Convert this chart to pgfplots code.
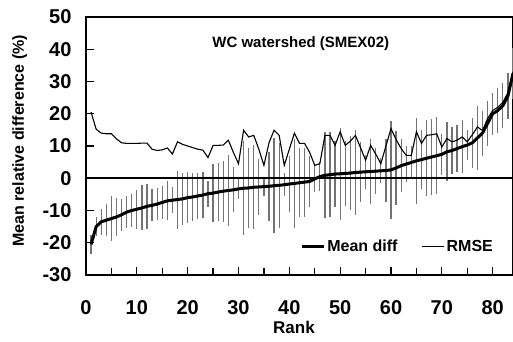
\documentclass[border=0pt]{standalone}
\usepackage{pgfplots}
\pgfplotsset{compat=1.18}
\usepackage{pgfplotstable}
\usepackage{fontspec}
\setmainfont{Liberation Sans}

\pgfplotstableread{
r m e s
1 -20.5 20.5 3
2 -15.0 15.2 3
3 -13.5 14.0 4
4 -13.0 13.8 5
5 -12.5 13.8 7
6 -12.0 12.2 6
7 -11.3 11.0 5
8 -10.5 10.8 5
9 -10.0 10.8 5
10 -9.6 10.8 6
11 -9.2 10.9 7
12 -8.7 10.9 7
13 -8.4 9.0 5
14 -8.0 8.6 5
15 -7.5 8.8 5
16 -7.0 9.4 6
17 -6.8 7.5 4
18 -6.6 11.3 9
19 -6.4 10.5 8
20 -6.0 10.0 8
21 -5.8 9.5 7.5
22 -5.5 9.0 7
23 -5.2 8.7 7
24 -4.8 6.4 4
25 -4.6 10.2 9
26 -4.3 10.2 9
27 -4.0 10.3 9.5
28 -3.8 11.8 11
29 -3.6 8.0 7
30 -3.3 4.5 3
31 -3.1 14.9 14.5
32 -3.0 12.8 12.4
33 -2.8 13.3 13
34 -2.7 9.0 8.6
35 -2.6 4.0 3
36 -2.5 11.0 10.7
37 -2.3 14.9 14.7
38 -2.2 13.3 13.1
39 -2.0 4.0 3.5
40 -1.8 9.0 8.8
41 -1.6 14.0 13.9
42 -1.4 10.8 10.7
43 -1.2 10.8 10.7
44 -1.0 8.0 7.9
45 -0.2 4.0 4
46 0.5 4.5 4.5
47 0.9 13.3 13.3
48 1.1 13.3 13.2
49 1.3 10.2 10.1
50 1.4 14.4 14.3
51 1.5 10.2 10.1
52 1.6 11.5 11.4
53 1.8 13.3 13.2
54 1.9 9.5 9.3
55 2.0 5.6 5.2
56 2.1 10.2 10
57 2.2 7.5 7.2
58 2.3 4.5 3.9
59 2.4 10.0 9.7
60 2.6 15.4 15.2
61 3.2 12.0 11.6
62 3.9 9.2 8.3
63 4.4 7.1 5.6
64 4.9 7.1 5.1
65 5.4 14.4 13.3
66 5.8 10.8 9.1
67 6.2 13.3 11.8
68 6.6 13.5 11.8
69 7.0 13.8 11.9
70 7.4 9.7 6.3
71 8.2 12.3 9.2
72 8.6 11.3 7.3
73 9.2 11.8 7.4
74 9.8 12.8 8.2
75 10.3 11.3 4.6
76 11.0 13.5 7.8
77 12.5 15.9 9.8
78 14.0 14.8 7
79 17.0 18.5 7
80 20.0 21.0 6.5
81 21.0 22.0 7
82 22.5 23.5 7
83 25.5 26.5 7
84 32.5 33.0 8
}\data

\begin{document}
\begin{tikzpicture}
\useasboundingbox (-86pt,-67pt) rectangle (427pt,275pt);
\begin{axis}[
  at={(0,0)}, anchor=south west,
  scale only axis, width=427pt, height=258pt,
  xmin=0, xmax=84, ymin=-30, ymax=50,
  xtick={0,10,...,80}, minor xtick={5,15,...,75},
  ytick={-30,-20,...,50},
  xtick pos=left, ytick pos=left,
  tick align=inside,
  major tick length=8pt, minor tick length=7pt,
  every tick/.style={black, line width=1.3pt},
  axis line style={line width=1.8pt},
  /pgf/number format/assume math mode=true,
  tick label style={font=\fontsize{20}{22}\selectfont\bfseries},
  xticklabel style={yshift=-22pt},
  yticklabel style={xshift=-11pt},
  xlabel={Rank},
  xlabel style={font=\fontsize{17}{19}\selectfont\bfseries, at={(axis description cs:0.487,0)}, anchor=center, yshift=-52pt},
  ylabel={Mean relative difference (\%)},
  ylabel style={font=\fontsize{16}{18}\selectfont\bfseries, at={(axis description cs:-0.155,0.52)}, anchor=center},
  legend style={at={(0.965,0.109)}, anchor=east, draw=none, fill=none, legend columns=2,
    font=\fontsize{16}{18}\selectfont\bfseries,
    /tikz/every even column/.append style={column sep=22pt}},
  legend image code/.code={\draw[#1] (0pt,0pt) -- (22pt,0pt);},
]
\addplot[draw=none, mark=none, forget plot,
  error bars/.cd, y dir=both, y explicit, error mark=none,
  error bar style={line width=1.2pt, color=black!55}]
  table[x=r, y=m, y error=s] {\data};
\addplot[black, line width=1.6pt, forget plot] coordinates {(0,0) (84,0)};
\addplot[black, line width=3pt] table[x=r, y=m] {\data};
\addlegendentry{Mean diff}
\addplot[black, line width=1.1pt] table[x=r, y=e] {\data};
\addlegendentry{RMSE}
\node[font=\fontsize{15}{18}\selectfont\bfseries] at (rel axis cs:0.503,0.895) {WC watershed (SMEX02)};
\end{axis}
\end{tikzpicture}
\end{document}
